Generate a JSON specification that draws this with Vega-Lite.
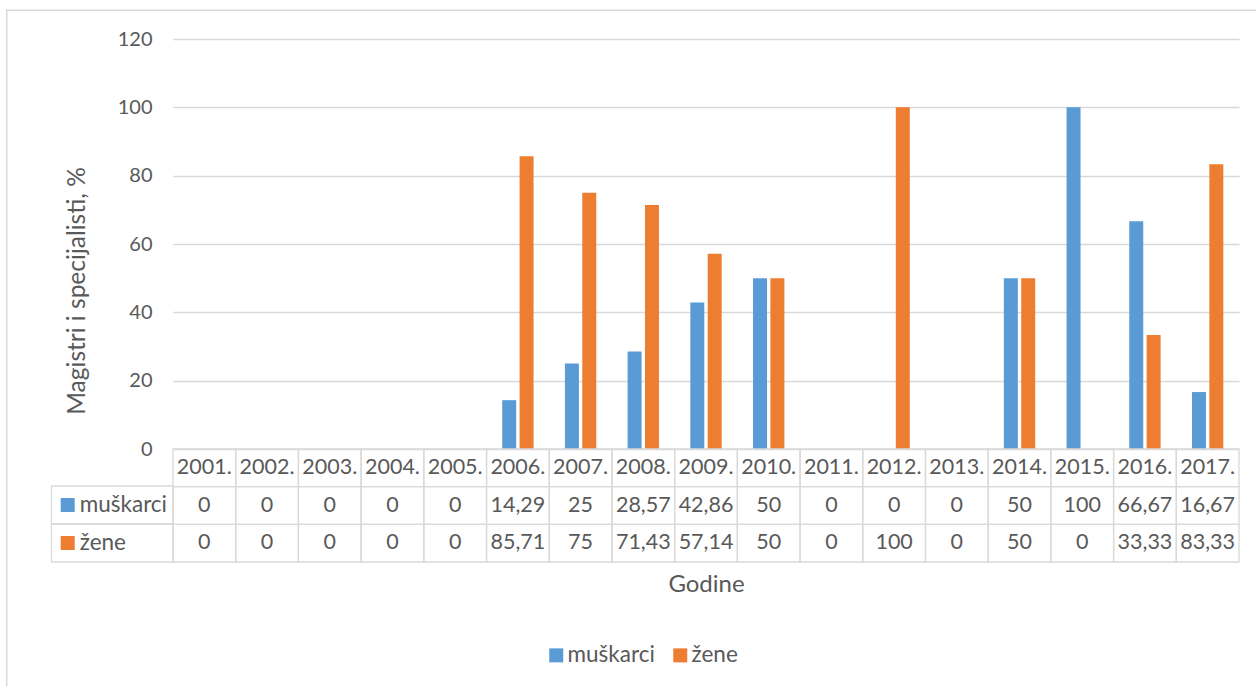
{
  "$schema": "https://vega.github.io/schema/vega-lite/v6.json",
  "width": 1066,
  "height": 523,
  "autosize": {"type": "none"},
  "padding": {"left": 173, "top": 39, "right": 17, "bottom": 124},
  "background": "white",
  "config": {
    "font": "Lato",
    "view": {"stroke": null},
    "locale": {"number": {"decimal": ",", "thousands": ".", "grouping": [3], "currency": ["", " €"]}}
  },
  "datasets": {
    "values": [
      {"year": "2001.", "serie": "muškarci", "value": 0},
      {"year": "2002.", "serie": "muškarci", "value": 0},
      {"year": "2003.", "serie": "muškarci", "value": 0},
      {"year": "2004.", "serie": "muškarci", "value": 0},
      {"year": "2005.", "serie": "muškarci", "value": 0},
      {"year": "2006.", "serie": "muškarci", "value": 14.29},
      {"year": "2007.", "serie": "muškarci", "value": 25},
      {"year": "2008.", "serie": "muškarci", "value": 28.57},
      {"year": "2009.", "serie": "muškarci", "value": 42.86},
      {"year": "2010.", "serie": "muškarci", "value": 50},
      {"year": "2011.", "serie": "muškarci", "value": 0},
      {"year": "2012.", "serie": "muškarci", "value": 0},
      {"year": "2013.", "serie": "muškarci", "value": 0},
      {"year": "2014.", "serie": "muškarci", "value": 50},
      {"year": "2015.", "serie": "muškarci", "value": 100},
      {"year": "2016.", "serie": "muškarci", "value": 66.67},
      {"year": "2017.", "serie": "muškarci", "value": 16.67},
      {"year": "2001.", "serie": "žene", "value": 0},
      {"year": "2002.", "serie": "žene", "value": 0},
      {"year": "2003.", "serie": "žene", "value": 0},
      {"year": "2004.", "serie": "žene", "value": 0},
      {"year": "2005.", "serie": "žene", "value": 0},
      {"year": "2006.", "serie": "žene", "value": 85.71},
      {"year": "2007.", "serie": "žene", "value": 75},
      {"year": "2008.", "serie": "žene", "value": 71.43},
      {"year": "2009.", "serie": "žene", "value": 57.14},
      {"year": "2010.", "serie": "žene", "value": 50},
      {"year": "2011.", "serie": "žene", "value": 0},
      {"year": "2012.", "serie": "žene", "value": 100},
      {"year": "2013.", "serie": "žene", "value": 0},
      {"year": "2014.", "serie": "žene", "value": 50},
      {"year": "2015.", "serie": "žene", "value": 0},
      {"year": "2016.", "serie": "žene", "value": 33.33},
      {"year": "2017.", "serie": "žene", "value": 83.33}
    ]
  },
  "layer": [
    {
      "data": {"name": "values"},
      "mark": {"type": "bar"},
      "encoding": {
        "x": {
          "field": "year", "type": "nominal",
          "scale": {"paddingInner": 0.5, "paddingOuter": 0.25},
          "axis": {"title": "Godine", "labels": false, "ticks": false, "domain": false, "grid": false,
                   "titleFontSize": 24, "titleColor": "#595959", "titleFontWeight": "normal", "titlePadding": 10}
        },
        "xOffset": {"field": "serie", "type": "nominal", "scale": {"domain": ["muškarci", "žene"], "paddingInner": 0.195}},
        "y": {
          "field": "value", "type": "quantitative",
          "scale": {"domain": [0, 120], "range": [410, 0], "nice": false},
          "axis": {"values": [0, 20, 40, 60, 80, 100, 120], "grid": true, "gridColor": "#D9D9D9", "gridWidth": 1.3,
                   "domain": false, "ticks": false, "labelFontSize": 20, "labelColor": "#595959", "labelPadding": 21,
                   "title": "Magistri i specijalisti, %", "titleFontSize": 24.5, "titleFontWeight": "normal",
                   "titleColor": "#595959", "titleX": -84, "titleY": 251.5}
        },
        "color": {
          "field": "serie", "type": "nominal",
          "scale": {"domain": ["muškarci", "žene"], "range": ["#5B9BD5", "#ED7D31"]},
          "legend": {"orient": "none", "legendX": 372, "legendY": 605, "direction": "horizontal", "title": null,
                     "symbolType": "square", "symbolSize": 196, "symbolStrokeWidth": 0, "labelFontSize": 22.5,
                     "labelColor": "#595959", "labelOffset": 0, "columnPadding": 14, "padding": 0}
        }
      }
    },
    {
      "data": {"name": "values"},
      "layer": [
        {
          "transform": [{"filter": "datum.serie == 'muškarci'"}],
          "mark": {"type": "rect", "fill": "white", "fillOpacity": 0, "stroke": "#D9D9D9", "strokeWidth": 1.3},
          "encoding": {
            "x": {"field": "year", "type": "nominal", "scale": {"paddingInner": 0, "paddingOuter": 0}, "axis": null},
            "y": {"datum": "godina", "type": "nominal",
                  "scale": {"domain": ["godina", "muškarci", "žene"], "range": [410, 523], "paddingInner": 0, "paddingOuter": 0},
                  "axis": null}
          }
        },
        {
          "transform": [{"filter": "datum.serie == 'muškarci'"}],
          "mark": {"type": "text", "fontSize": 21.5, "color": "#595959", "baseline": "middle", "align": "center"},
          "encoding": {
            "x": {"field": "year", "type": "nominal"},
            "y": {"datum": "godina", "type": "nominal"},
            "text": {"field": "year"}
          }
        },
        {
          "mark": {"type": "rect", "fill": "white", "fillOpacity": 0, "stroke": "#D9D9D9", "strokeWidth": 1.3},
          "encoding": {
            "x": {"field": "year", "type": "nominal"},
            "y": {"field": "serie", "type": "nominal"}
          }
        },
        {
          "mark": {"type": "text", "fontSize": 21.5, "color": "#595959", "baseline": "middle", "align": "center"},
          "encoding": {
            "x": {"field": "year", "type": "nominal"},
            "y": {"field": "serie", "type": "nominal"},
            "text": {"field": "value", "type": "quantitative", "format": ".2~f"}
          }
        }
      ]
    },
    {
      "data": {"name": "values"},
      "transform": [{"filter": "datum.year == '2001.'"}],
      "layer": [
        {
          "mark": {"type": "rect", "fill": "white", "fillOpacity": 0, "stroke": "#D9D9D9", "strokeWidth": 1.3},
          "encoding": {
            "x": {"datum": 0, "type": "quantitative", "scale": {"domain": [0, 1], "range": [-121.6, 0]}, "axis": null},
            "x2": {"datum": 1},
            "y": {"field": "serie", "type": "nominal",
                  "scale": {"domain": ["muškarci", "žene"], "range": [447, 523], "paddingInner": 0, "paddingOuter": 0},
                  "axis": null}
          }
        },
        {
          "mark": {"type": "point", "shape": "square", "filled": true, "size": 196, "opacity": 1},
          "encoding": {
            "x": {"datum": 0.134, "type": "quantitative"},
            "y": {"field": "serie", "type": "nominal"},
            "color": {"field": "serie", "type": "nominal"}
          }
        },
        {
          "mark": {"type": "text", "fontSize": 22.5, "color": "#595959", "baseline": "middle", "align": "left"},
          "encoding": {
            "x": {"datum": 0.233, "type": "quantitative"},
            "y": {"field": "serie", "type": "nominal"},
            "text": {"field": "serie"}
          }
        }
      ]
    },
    {
      "data": {"values": [{"frame": "chart"}]},
      "mark": {"type": "rect", "fill": "white", "fillOpacity": 0, "stroke": "#D9D9D9", "strokeWidth": 1.5},
      "encoding": {
        "x": {"datum": 0, "type": "quantitative", "scale": {"domain": [0, 1], "range": [-166.3, 1100]}, "axis": null},
        "x2": {"datum": 1},
        "y": {"datum": 0, "type": "quantitative", "scale": {"domain": [0, 1], "range": [-28.8, 700]}, "axis": null},
        "y2": {"datum": 1}
      }
    }
  ],
  "resolve": {"scale": {"x": "independent", "y": "independent"}}
}
